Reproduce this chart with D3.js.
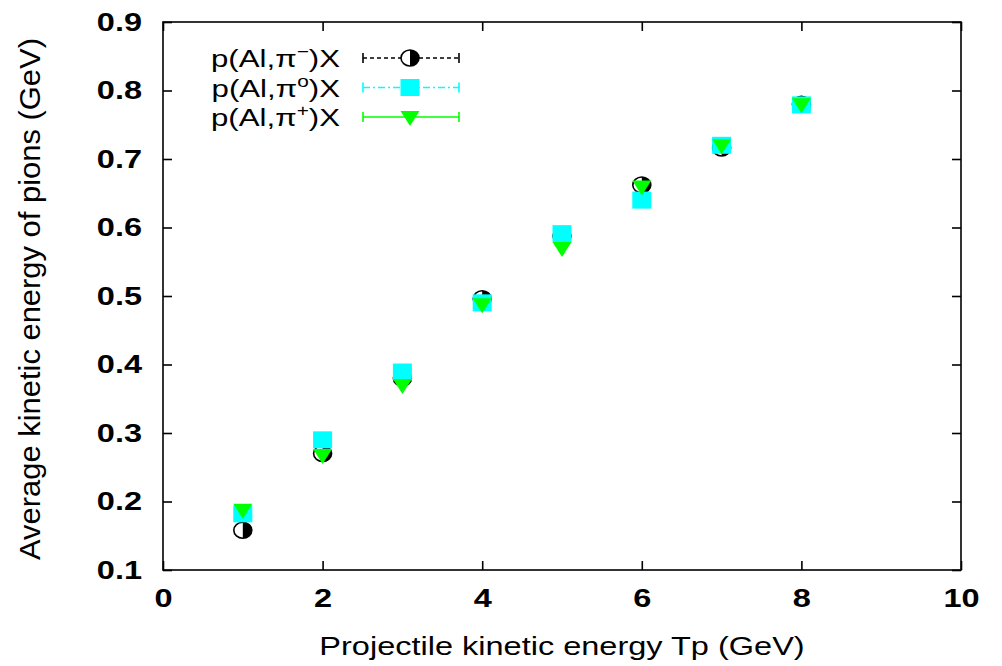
<!DOCTYPE html>
<html>
<head>
<meta charset="utf-8">
<script src="https://cdn.jsdelivr.net/npm/d3@7"></script>
<style>
  body { margin: 0; background: #fff; }
  text { font-family: "Liberation Sans", Arial, sans-serif; fill: #000; }
  .tick text { font-size: 25px; font-weight: bold; }
  .title { font-size: 25px; }
  .leg { font-size: 24px; }
</style>
</head>
<body>
<svg id="chart" width="1002" height="666"></svg>
<script>

// data
var energies = [1, 2, 3, 4, 5, 6, 7, 8];
var piMinus = [0.158, 0.270, 0.380, 0.496, 0.588, 0.662, 0.716, 0.780];
var piZero  = [0.182, 0.290, 0.389, 0.490, 0.591, 0.640, 0.720, 0.779];
var piPlus  = [0.188, 0.268, 0.370, 0.488, 0.570, 0.660, 0.720, 0.780];
var xTicks = [0, 2, 4, 6, 8, 10];
var yTicks = [0.1, 0.2, 0.3, 0.4, 0.5, 0.6, 0.7, 0.8, 0.9];

var svg = d3.select("#chart"),
    margin = {top: 22, right: 41, bottom: 96, left: 163},
    width = 1002,
    height = 666,
    stretch = 1.3;   // the picture is wider than tall, text too

var x_scale = d3.scaleLinear()
    .domain([0, 10])
    .range([margin.left, width - margin.right]);

var y_scale = d3.scaleLinear()
    .domain([0.1, 0.9])
    .range([height - margin.bottom, margin.top]);

// widen text along x
function widen(sel) {
  sel.each(function() {
    var w = this.getComputedTextLength();
    d3.select(this).attr("textLength", w * stretch).attr("lengthAdjust", "spacingAndGlyphs");
  });
}

// axes, ticks point inward like gnuplot
var x_axis = d3.axisBottom(x_scale).tickValues(xTicks).tickSize(-9).tickPadding(18).tickFormat(d3.format("d"));
var y_axis = d3.axisLeft(y_scale).tickValues(yTicks).tickSize(-9).tickPadding(21).tickFormat(d3.format(".1f"));

var gx = svg.append("g")
   .attr("transform", "translate(0," + (height - margin.bottom) + ")")
   .call(x_axis);
var gy = svg.append("g")
   .attr("transform", "translate(" + margin.left + ",0)")
   .call(y_axis);

// mirror ticks on top and right
svg.append("g")
   .attr("transform", "translate(0," + margin.top + ")")
   .call(d3.axisTop(x_scale).tickValues(xTicks).tickSize(-9).tickFormat(""));
svg.append("g")
   .attr("transform", "translate(" + (width - margin.right) + ",0)")
   .call(d3.axisRight(y_scale).tickValues(yTicks).tickSize(-9).tickFormat(""));

svg.selectAll(".domain").remove();
svg.selectAll(".tick line").attr("stroke", "#000").attr("stroke-width", 1.6);
gx.selectAll(".tick text").attr("dy", "0.75em");
widen(gx.selectAll(".tick text"));
widen(gy.selectAll(".tick text"));

// border
svg.append("rect")
   .attr("x", margin.left)
   .attr("y", margin.top)
   .attr("width", width - margin.left - margin.right)
   .attr("height", height - margin.top - margin.bottom)
   .attr("fill", "none")
   .attr("stroke", "#000")
   .attr("stroke-width", 1.6);

// axis titles
svg.append("text")
   .attr("class", "title")
   .attr("x", 562)
   .attr("y", 655)
   .attr("text-anchor", "middle")
   .text("Projectile kinetic energy Tp (GeV)")
   .call(widen);

svg.append("text")
   .attr("class", "title")
   .attr("transform", "translate(40,299) rotate(-90) scale(1,1.15)")
   .attr("text-anchor", "middle")
   .attr("font-size", "30px")
   .attr("textLength", 522)
   .attr("lengthAdjust", "spacingAndGlyphs")
   .text("Average kinetic energy of pions (GeV)");

// markers
function halfCircle(g, cx, cy) {
  g.append("ellipse").attr("cx", cx).attr("cy", cy).attr("rx", 9).attr("ry", 8)
   .attr("fill", "#fff").attr("stroke", "#000").attr("stroke-width", 1.6);
  g.append("path")
   .attr("d", "M" + cx + "," + (cy - 8) + " A9,8 0 0,1 " + cx + "," + (cy + 8) + " Z")
   .attr("fill", "#000");
}
function square(g, cx, cy) {
  g.append("rect").attr("x", cx - 9.5).attr("y", cy - 8.5)
   .attr("width", 19).attr("height", 17).attr("fill", "#00ffff");
}
function triangle(g, cx, cy) {
  g.append("path")
   .attr("d", "M" + (cx - 9.5) + "," + (cy - 6) + " L" + (cx + 9.5) + "," + (cy - 6) + " L" + cx + "," + (cy + 9) + " Z")
   .attr("fill", "#00ff00");
}

var marks = svg.append("g");
energies.forEach(function(e, i) {
  halfCircle(marks, x_scale(e), y_scale(piMinus[i]));
});
energies.forEach(function(e, i) {
  square(marks, x_scale(e), y_scale(piZero[i]));
});
energies.forEach(function(e, i) {
  triangle(marks, x_scale(e), y_scale(piPlus[i]));
});

// legend
var legend = [
  {sup: "\u2212", color: "#000", dash: "4,3", marker: "circle"},
  {sup: "o", color: "#00ffff", dash: "7,3,2,3", marker: "square"},
  {sup: "+", color: "#00ff00", dash: null, marker: "triangle"}
];
legend.forEach(function(l, i) {
  var y = 58 + i * 29.5;
  var tg = svg.append("g").attr("transform", "translate(340," + (y + 9) + ") scale(" + stretch + ",1)");
  var t = tg.append("text").attr("class", "leg").attr("text-anchor", "end");
  t.append("tspan").text("p(Al,\u03c0");
  t.append("tspan").attr("font-size", "16px").attr("dy", -10).text(l.sup);
  t.append("tspan").attr("dy", 10).text(")X");

  var x0 = 363, x1 = 459;
  svg.append("line").attr("x1", x0).attr("x2", x1).attr("y1", y).attr("y2", y)
     .attr("stroke", l.color).attr("stroke-width", 1.6)
     .attr("stroke-dasharray", l.dash);
  [x0, x1].forEach(function(xc) {
    svg.append("line").attr("x1", xc).attr("x2", xc).attr("y1", y - 5).attr("y2", y + 5)
       .attr("stroke", l.color).attr("stroke-width", 1.6);
  });
  var lg = svg.append("g");
  if (l.marker == "circle") halfCircle(lg, 410, y);
  else if (l.marker == "square") square(lg, 410, y);
  else triangle(lg, 410, y);
});

</script>
</body>
</html>
